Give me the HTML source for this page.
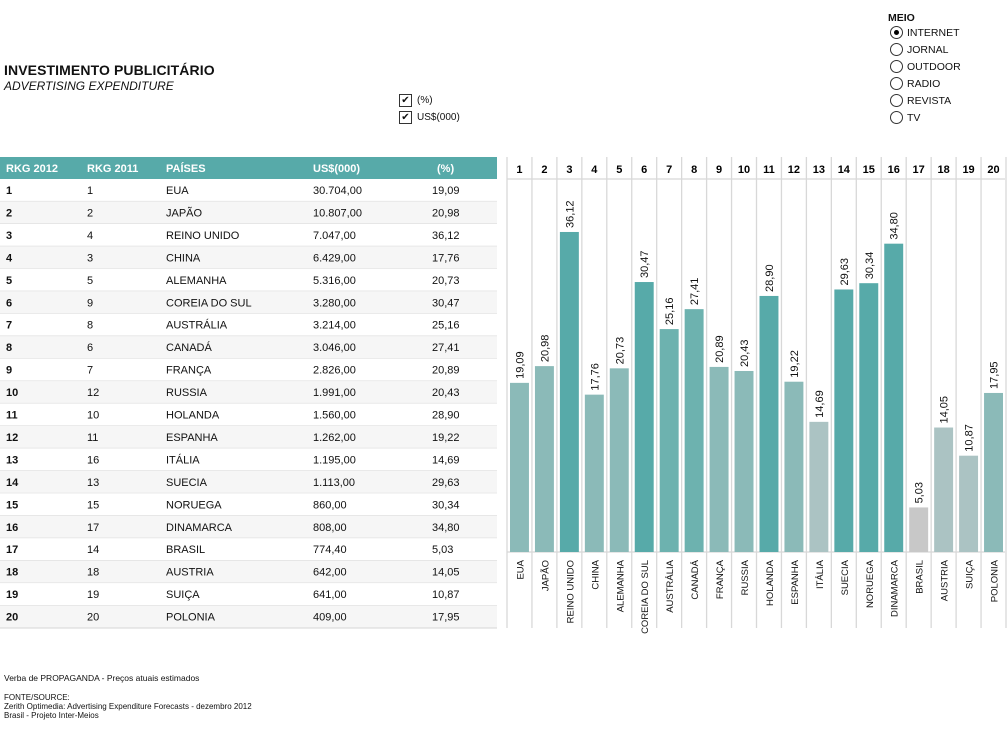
<!DOCTYPE html>
<html><head><meta charset="utf-8"><style>
body{margin:0;width:1008px;height:752px;background:#fff;font-family:"Liberation Sans","DejaVu Sans",sans-serif;position:relative;overflow:hidden;color:#111}
.abs{position:absolute}
#title{left:4px;top:62px;font-size:14px;font-weight:bold;font-family:"Liberation Sans",sans-serif;letter-spacing:0.1px}
#sub{left:4px;top:79px;font-size:12px;font-style:italic;font-family:"Liberation Sans",sans-serif}
.cb{font-size:10px;display:flex;align-items:center}
.cb span.box{width:11px;height:11px;border:1px solid #333;display:inline-block;margin-right:5px;font-size:10px;line-height:11px;text-align:center}
.rad{font-size:10.5px;display:flex;align-items:center;height:17px}
.rad .c{width:11px;height:11px;border:1px solid #333;border-radius:50%;margin-right:4px;position:relative}
.rad .c.on::after{content:"";position:absolute;left:3px;top:3px;width:5px;height:5px;border-radius:50%;background:#000}
.foot{left:4px;font-size:8px;font-family:"Liberation Sans",sans-serif}
</style></head><body>
<div id="title" class="abs">INVESTIMENTO PUBLICITÁRIO</div>
<div id="sub" class="abs">ADVERTISING EXPENDITURE</div>
<div class="abs cb" style="left:399px;top:94px"><span class="box">✔</span>(%)</div>
<div class="abs cb" style="left:399px;top:111px"><span class="box">✔</span>US$(000)</div>
<div class="abs" style="left:888px;top:12px;font-size:10.5px;font-weight:bold">MEIO</div>
<div class="abs" style="left:890px;top:24px">
<div class="rad"><span class="c on"></span>INTERNET</div>
<div class="rad"><span class="c"></span>JORNAL</div>
<div class="rad"><span class="c"></span>OUTDOOR</div>
<div class="rad"><span class="c"></span>RADIO</div>
<div class="rad"><span class="c"></span>REVISTA</div>
<div class="rad"><span class="c"></span>TV</div>
</div>
<svg class="abs" style="left:0;top:0" width="1008" height="752" id="svg"></svg>
<div class="abs foot" style="top:673px;font-size:8.5px">Verba de PROPAGANDA - Preços atuais estimados</div>
<div class="abs foot" style="top:693px;line-height:9px">FONTE/SOURCE:<br>Zerith Optimedia: Advertising Expenditure Forecasts - dezembro 2012<br>Brasil - Projeto Inter-Meios</div>
<script>
const rk2012=["1","2","3","4","5","6","7","8","9","10","11","12","13","14","15","16","17","18","19","20"];
const rk2011=["1","2","4","3","5","9","8","6","7","12","10","11","16","13","15","17","14","18","19","20"];
const countries=["EUA","JAPÃO","REINO UNIDO","CHINA","ALEMANHA","COREIA DO SUL","AUSTRÁLIA","CANADÁ","FRANÇA","RUSSIA","HOLANDA","ESPANHA","ITÁLIA","SUECIA","NORUEGA","DINAMARCA","BRASIL","AUSTRIA","SUIÇA","POLONIA"];
const usd=["30.704,00","10.807,00","7.047,00","6.429,00","5.316,00","3.280,00","3.214,00","3.046,00","2.826,00","1.991,00","1.560,00","1.262,00","1.195,00","1.113,00","860,00","808,00","774,40","642,00","641,00","409,00"];
const pct=[19.09,20.98,36.12,17.76,20.73,30.47,25.16,27.41,20.89,20.43,28.90,19.22,14.69,29.63,30.34,34.80,5.03,14.05,10.87,17.95];
const NS="http://www.w3.org/2000/svg",svg=document.getElementById('svg');
function mk(t,a,txt){const e=document.createElementNS(NS,t);for(const k in a)e.setAttribute(k,a[k]);if(txt!==undefined)e.textContent=txt;svg.appendChild(e);return e;}
const fmt=v=>v.toFixed(2).replace('.',',');
const hdr=mk('rect',{x:0,y:157,width:497,height:22,fill:'#57aaa9'});


const hx=[6,87,166,313,437],hl=["RKG 2012","RKG 2011","PAÍSES","US$(000)","(%)"];
hl.forEach((h,i)=>{const t=mk('text',{x:hx[i],y:172,fill:'#fff','font-size':11,'font-weight':'bold'},h);

});
const rh=22.45;
for(let i=0;i<20;i++){const y=179+i*rh;
 const r=mk('rect',{x:0,y:y,width:497,height:rh,fill:i%2?'#f6f6f6':'#fff'});
 
 
 mk('line',{x1:0,x2:497,y1:y+rh,y2:y+rh,stroke:'#ddd','stroke-width':1.2});
 const cells=[rk2012[i],rk2011[i],countries[i],usd[i],fmt(pct[i])];
 const cx=[6,87,166,313,432];
 cells.forEach((c,j)=>{const t=mk('text',{x:cx[j],y:y+15,'font-size':11,'font-weight':j==0?'bold':'normal',fill:'#111'},c);
 
 });
}
const x0=507,cw=24.95,base=552,sc=8.86;
const xs=i=>x0+i*cw, ys=v=>base-v*sc;
function col(v){if(v<6)return'#c8c8c8';if(v<16)return'#abc3c3';if(v<22)return'#8bbab8';if(v<28)return'#6db2af';return'#57aaa9';}
for(let i=0;i<=20;i++)mk('line',{x1:xs(i),x2:xs(i),y1:157,y2:628,stroke:'#d8d8d8','stroke-width':1.3});
mk('line',{x1:x0,x2:1005,y1:179,y2:179,stroke:'#d8d8d8','stroke-width':1.3});
mk('line',{x1:x0,x2:1005,y1:base,y2:base,stroke:'#d8d8d8','stroke-width':1.3});
pct.forEach((v,i)=>{
 const n=mk('text',{x:xs(i)+cw/2,y:173,'text-anchor':'middle','font-size':11,'font-weight':'bold'},rk2012[i]);
 
 
 const b=mk('rect',{x:xs(i)+3,y:ys(v),width:cw-6,height:base-ys(v),fill:col(v)});
 
 
 const cx=xs(i)+cw/2+4,ty=ys(v)-4;
 const l=mk('text',{x:cx,y:ty,transform:`rotate(-90 ${cx} ${ty})`,'font-size':11,fill:'#111'},fmt(v));
 
 
 const ly=560;
 const c=mk('text',{x:cx,y:ly,transform:`rotate(-90 ${cx} ${ly})`,'text-anchor':'end','font-size':9.5,fill:'#111'},countries[i]);
 
 
});
</script>
</body></html>
